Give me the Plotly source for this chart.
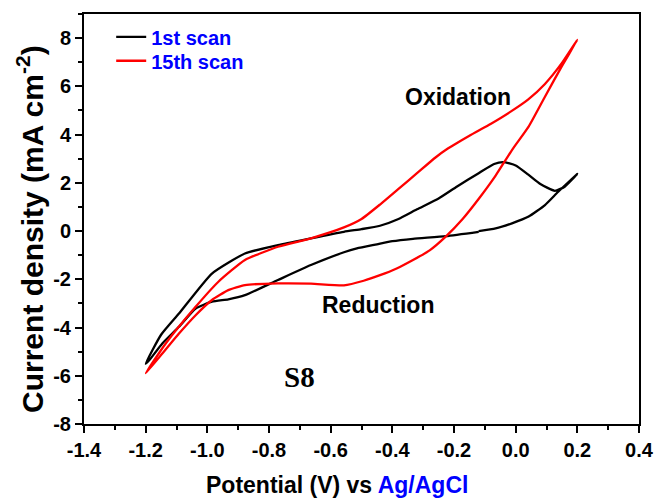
import plotly.graph_objects as go

# 1st scan (black): start near -0.12 V, cathodic sweep to -1.2 V, anodic to 0.2 V, back to start
scan1_x = [-0.12, -0.226, -0.333, -0.40, -0.45, -0.515, -0.557, -0.664, -0.771, -0.878, -0.932, -0.985,
           -1.038, -1.092, -1.146, -1.188, -1.20,
           -1.15, -1.092, -0.985, -0.878, -0.771, -0.664, -0.557, -0.50, -0.44, -0.38, -0.32,
           -0.25, -0.19, -0.12, -0.07, -0.04, 0.0, 0.04, 0.08, 0.127, 0.159, 0.20,
           0.138, 0.095, 0.042, -0.012, -0.065, -0.12]
scan1_y = [-0.03, -0.21, -0.32, -0.42, -0.55, -0.72, -0.88, -1.41, -2.03, -2.66, -2.83, -2.93,
           -3.21, -3.97, -4.66, -5.35, -5.50,
           -4.30, -3.42, -1.76, -0.93, -0.58, -0.30, -0.03, 0.08, 0.22, 0.50, 0.90,
           1.35, 1.85, 2.40, 2.78, 2.86, 2.72, 2.35, 1.95, 1.67, 1.84, 2.37,
           1.63, 1.08, 0.60, 0.32, 0.11, 0.0]

# 15th scan (red)
scan15_x = [-1.20, -1.135, -1.038, -0.964, -0.878, -0.771, -0.664, -0.557, -0.50, -0.44, -0.38,
            -0.32, -0.26, -0.22, -0.15, -0.08, -0.02, 0.04, 0.095, 0.149, 0.20,
            0.149, 0.095, 0.042, -0.012, -0.065, -0.119, -0.172, -0.226, -0.279, -0.333, -0.386,
            -0.44, -0.493, -0.557, -0.664, -0.771, -0.878, -0.932, -0.985, -1.038, -1.092,
            -1.146, -1.20]
scan15_y = [-5.90, -4.66, -3.14, -2.10, -1.20, -0.65, -0.30, 0.15, 0.50, 1.10, 1.75,
            2.40, 3.05, 3.42, 3.95, 4.45, 4.92, 5.45, 6.10, 6.95, 7.93,
            6.82, 5.57, 4.33, 3.36, 2.30, 1.35, 0.50, -0.22, -0.80, -1.20, -1.55,
            -1.83, -2.06, -2.25, -2.18, -2.17, -2.24, -2.45, -2.86, -3.49, -4.25,
            -5.08, -5.90]

series_names = ["1st scan", "15th scan"]
series_colors = ["black", "red"]

x_ticks = [-1.4, -1.2, -1.0, -0.8, -0.6, -0.4, -0.2, 0.0, 0.2, 0.4]
x_ticklabels = ["-1.4", "-1.2", "-1.0", "-0.8", "-0.6", "-0.4", "-0.2", "0.0", "0.2", "0.4"]
y_ticks = [-8, -6, -4, -2, 0, 2, 4, 6, 8]
y_ticklabels = ["-8", "-6", "-4", "-2", "0", "2", "4", "6", "8"]

FONT = "Liberation Sans, Arial, sans-serif"

fig = go.Figure()
for i, (name, color, xs, ys) in enumerate([(series_names[0], series_colors[0], scan1_x, scan1_y),
                                           (series_names[1], series_colors[1], scan15_x, scan15_y)]):
    fig.add_trace(go.Scatter(x=xs, y=ys, mode="lines", name=name,
                             legend="legend" if i == 0 else "legend2",
                             line=dict(color=color, width=2.3, shape="spline", smoothing=0.5)))

annot_font = dict(family=FONT, size=23, color="black", weight="bold")
fig.add_annotation(x=-0.187, y=5.55, text="Oxidation", showarrow=False, font=annot_font)
fig.add_annotation(x=-0.445, y=-3.07, text="Reduction", showarrow=False, font=annot_font)
fig.add_annotation(x=-0.70, y=-6.06, text="S8", showarrow=False,
                   font=dict(family="Liberation Serif, Times New Roman, serif", size=29,
                             color="black", weight="bold"))

# axis titles
fig.add_annotation(xref="paper", yref="paper", x=0.455, y=-0.148,
                   text="Potential (V) vs <span style='color:#0000FF'>Ag/AgCl</span>",
                   showarrow=False, xanchor="center", yanchor="middle",
                   font=dict(family=FONT, size=23, color="black", weight="bold"))
fig.add_annotation(xref="paper", yref="paper", x=-0.096, y=0.475,
                   text="Current density (mA cm<sup>-2</sup>)", textangle=-90,
                   showarrow=False, xanchor="center", yanchor="middle",
                   font=dict(family=FONT, size=30, color="black", weight="bold"))

tickfont = dict(family=FONT, size=20, color="black", weight="bold")
fig.update_xaxes(range=[-1.4, 0.4], tickvals=x_ticks, ticktext=x_ticklabels,
                 showline=True, linecolor="black", linewidth=2, mirror=True,
                 ticks="outside", ticklen=7, tickwidth=2, tickcolor="black",
                 minor=dict(dtick=0.1, ticks="outside", ticklen=4, tickwidth=2, tickcolor="black"),
                 showgrid=False, zeroline=False, tickfont=tickfont)
fig.update_yaxes(range=[-8, 9], tickvals=y_ticks, ticktext=y_ticklabels,
                 showline=True, linecolor="black", linewidth=2, mirror=True,
                 ticks="outside", ticklen=7, tickwidth=2, tickcolor="black",
                 minor=dict(dtick=1, tick0=0, ticks="outside", ticklen=4, tickwidth=2, tickcolor="black"),
                 showgrid=False, zeroline=False, tickfont=tickfont)

legfont = dict(family=FONT, size=20, color="#0000FF", weight="bold")
fig.update_layout(width=666, height=503,
                  margin=dict(l=84, r=21, t=13, b=79),
                  paper_bgcolor="white", plot_bgcolor="white",
                  showlegend=True,
                  legend=dict(x=0.049, y=0.944, xanchor="left", yanchor="middle",
                              bgcolor="rgba(0,0,0,0)", font=legfont),
                  legend2=dict(x=0.049, y=0.886, xanchor="left", yanchor="middle",
                               bgcolor="rgba(0,0,0,0)", font=legfont))

fig.write_html("out.html")
